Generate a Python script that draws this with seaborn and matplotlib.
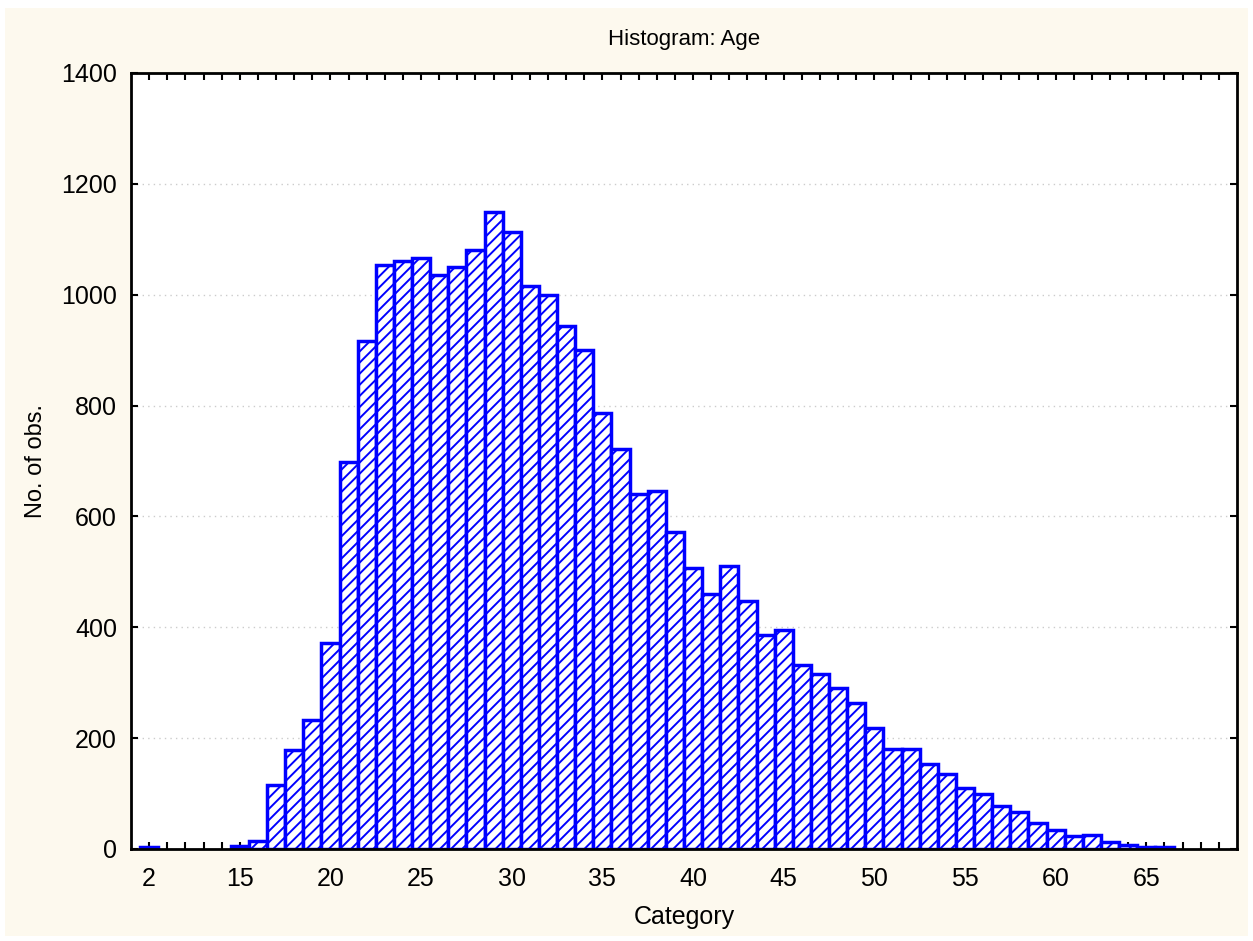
import seaborn as sns
import matplotlib.pyplot as plt
from matplotlib.patches import Rectangle

# Age categories and counts
ages = ["2", "15", "16", "17", "18", "19", "20", "21", "22", "23", "24", "25", "26",
        "27", "28", "29", "30", "31", "32", "33", "34", "35", "36", "37", "38", "39",
        "40", "41", "42", "43", "44", "45", "46", "47", "48", "49", "50", "51", "52",
        "53", "54", "55", "56", "57", "58", "59", "60", "61", "62", "63", "64", "65", "66"]
counts = [3, 5, 15, 116, 178, 233, 371, 698, 917, 1053, 1061, 1066, 1035,
          1050, 1081, 1150, 1114, 1015, 999, 943, 900, 786, 722, 641, 645, 572,
          507, 460, 510, 447, 386, 395, 332, 315, 290, 263, 218, 180, 180,
          153, 135, 110, 99, 78, 67, 47, 35, 23, 26, 13, 7, 4, 3]

# category slots on the axis (empty ones leave gaps)
order = ["2"] + [str(a) for a in range(11, 70)]
shown = ["2", "15", "20", "25", "30", "35", "40", "45", "50", "55", "60", "65"]
yticks = [0, 200, 400, 600, 800, 1000, 1200, 1400]

sns.set_style("ticks")
plt.rcParams['font.family'] = ['Liberation Sans', 'DejaVu Sans']
plt.rcParams['hatch.linewidth'] = 1.4
plt.rcParams['text.color'] = 'black'
plt.rcParams['axes.labelcolor'] = 'black'

fig = plt.figure(figsize=(12.53, 9.41), dpi=100)
fig.patch.set_facecolor("white")
fig.add_artist(Rectangle((5 / 1253, 5 / 941), 1243 / 1253, 928 / 941,
                         transform=fig.transFigure, facecolor="#fdf9ee",
                         edgecolor="none", zorder=-10))
ax = fig.add_axes([131 / 1253, 92 / 941, 1106 / 1253, 776 / 941])
ax.set_facecolor("white")

sns.barplot(x=ages, y=counts, order=order, color="white", edgecolor="#0000ff",
            linewidth=2.5, hatch="///", width=1.0, saturation=1,
            errorbar=None, ax=ax)

ax.set_xlim(-1, len(order))
ax.set_ylim(0, 1400)
ax.set_xticks(range(len(order)))
ax.set_xticklabels([c if c in shown else "" for c in order])
ax.set_yticks(yticks)
ax.set_yticklabels([str(v) for v in yticks])

ax.tick_params(axis="both", direction="in", length=5, width=1.5,
               top=True, right=True, labelsize=18, colors="black")
ax.tick_params(axis="x", pad=13)
ax.tick_params(axis="y", pad=10)

ax.yaxis.grid(True, linestyle=(0, (1, 3)), color="#cccccc", linewidth=1)
ax.set_axisbelow(True)
for s in ax.spines.values():
    s.set_linewidth(2)
    s.set_color("black")

ax.set_title("Histogram: Age", fontsize=16, pad=20, color="black")
ax.set_xlabel("Category", fontsize=18, labelpad=10)
ax.set_ylabel("No. of obs.", fontsize=17, labelpad=10)

fig.savefig("out.png", dpi=100)
